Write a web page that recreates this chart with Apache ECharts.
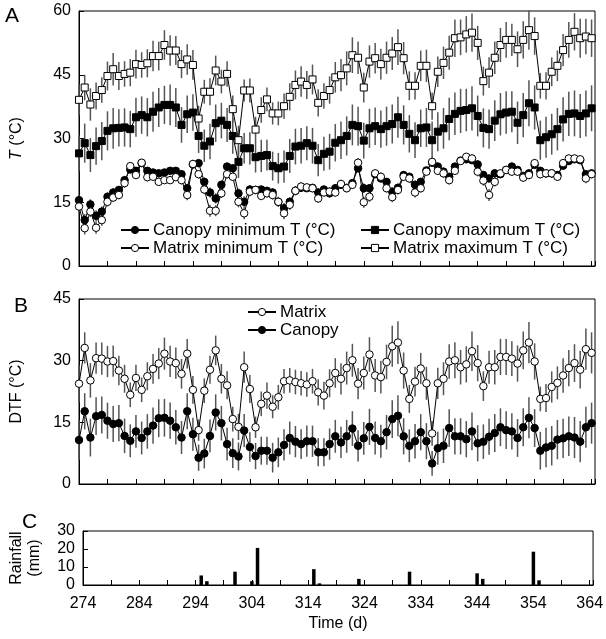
<!DOCTYPE html>
<html><head><meta charset="utf-8">
<script src="https://cdn.jsdelivr.net/npm/echarts/dist/echarts.min.js"></script>
<style>html,body{margin:0;padding:0;background:#fff}#c{width:606px;height:639px}</style>
</head><body><div id="c"></div>
<script>
const startDay = 274;
const xTickLabels = [274, 284, 294, 304, 314, 324, 334, 344, 354, 364];
const yTicksA = [0, 15, 30, 45, 60];
const yTicksB = [0, 15, 30, 45];
const yTicksC = [0, 10, 20, 30];

const matMax = [39.1,42.0,38.0,40.0,41.4,44.7,46.3,44.7,45.2,45.5,47.5,47.3,47.7,49.4,49.4,52.0,50.7,50.7,47.5,48.6,47.3,34.7,41.0,41.0,46.0,43.4,45.2,36.9,29.6,41.3,41.3,32.1,36.7,39.2,35.9,35.9,37.6,39.8,42.6,43.4,42.6,43.9,38.4,40.0,41.4,44.4,44.9,46.5,49.6,49.0,42.0,48.1,48.9,47.5,49.0,50.0,51.5,48.9,42.4,42.4,47.1,47.1,37.6,45.7,47.8,50.2,53.6,53.8,54.5,54.9,52.5,43.5,45.5,49.0,52.0,53.2,53.2,51.0,53.2,55.5,54.1,42.4,42.4,45.7,47.1,50.8,53.2,55.1,53.6,54.0,53.6];
const canMax = [26.5,28.9,26.1,28.2,29.4,31.8,32.4,32.5,32.6,32.2,35.0,35.5,35.0,36.3,37.3,37.9,37.9,37.3,33.2,35.7,36.1,30.6,28.3,29.3,33.6,34.2,33.2,30.6,24.5,27.7,27.7,25.6,25.9,26.1,23.5,23.0,23.4,25.9,28.1,28.3,28.9,28.3,24.9,26.4,26.9,29.0,29.6,30.6,33.2,32.9,29.5,32.4,32.9,32.2,32.9,33.4,35.0,33.2,31.1,29.6,32.4,32.6,29.6,31.6,32.4,34.6,35.8,36.5,36.7,37.1,35.3,32.5,32.2,34.2,35.7,36.1,36.3,33.7,35.5,38.3,37.3,29.6,30.3,31.0,32.2,34.5,35.8,35.9,35.3,35.9,37.1];
const canMin = [15.5,10.8,14.5,11.8,12.8,16.3,17.3,17.9,20.2,22.7,22.4,24.2,22.4,22.0,21.8,22.0,22.4,22.4,21.6,18.3,23.9,24.2,19.8,17.3,15.9,19.1,23.4,23.0,17.1,15.1,18.0,17.9,18.0,17.7,17.3,15.1,13.6,15.1,17.7,18.4,18.3,18.4,17.3,18.0,17.1,18.3,19.1,18.4,19.5,23.0,18.3,18.3,21.6,20.6,19.8,17.5,18.4,21.4,21.0,19.1,19.8,22.5,24.3,23.4,22.2,21.0,23.4,24.8,25.1,24.9,23.9,21.4,20.6,21.8,21.6,22.6,23.4,22.6,21.2,21.8,23.8,22.4,21.8,21.8,21.4,23.6,24.7,25.1,24.9,21.6,21.8];
const matMin = [14.0,8.9,12.8,9.0,10.8,15.1,16.1,16.7,19.5,23.5,21.4,24.3,20.9,21.0,19.8,20.2,20.2,20.9,20.2,16.7,24.0,21.6,18.0,13.0,13.0,17.1,21.6,21.0,15.1,12.4,17.5,17.9,16.5,17.1,16.7,15.1,12.4,14.4,17.7,18.7,18.5,18.3,15.9,17.3,17.5,17.3,19.3,18.3,19.1,24.3,15.0,16.3,21.8,21.0,18.3,16.2,17.9,21.0,20.6,17.3,18.3,22.2,24.5,22.4,21.8,20.2,22.4,24.7,25.7,25.3,22.2,20.1,16.7,19.8,21.8,22.6,22.2,22.2,20.8,21.4,24.2,21.6,21.8,21.8,21.0,24.2,25.3,25.3,25.1,20.6,21.6];
const matDTF = [24.4,33.1,25.2,30.6,30.5,29.8,29.9,27.6,25.6,21.7,25.8,22.9,26.2,28.0,29.3,31.7,29.8,29.4,26.8,31.7,22.9,13.1,22.7,27.8,32.5,25.6,24.0,15.8,13.9,28.4,23.1,13.8,19.5,21.5,18.8,21.1,25.0,25.2,24.8,24.5,24.2,25.0,22.3,21.5,24.5,27.0,25.6,28.2,30.1,24.4,27.0,31.5,26.4,26.0,29.7,33.5,34.4,27.6,20.7,24.9,28.1,24.5,12.3,24.5,25.6,29.8,30.1,28.4,29.1,32.3,29.4,23.8,28.4,28.4,30.9,30.9,30.5,29.3,32.5,34.4,29.8,20.7,20.9,23.6,24.6,26.4,28.2,29.4,27.8,32.8,31.9];
const canDTF = [10.7,17.7,11.3,16.5,16.8,15.4,14.6,14.8,11.7,10.5,12.8,11.2,12.8,14.2,16.0,16.1,15.4,13.8,11.3,17.7,12.1,6.4,7.4,11.7,17.4,14.8,9.7,7.5,6.7,13.0,9.0,6.8,8.1,8.1,6.4,7.7,9.5,11.2,10.3,9.7,10.4,10.4,7.7,7.7,9.7,11.6,10.1,11.6,13.5,9.3,11.1,13.9,11.2,10.4,12.6,15.8,16.6,11.6,9.3,10.4,12.6,10.4,5.0,8.7,9.3,13.6,11.6,11.6,10.9,12.8,9.9,10.3,11.5,12.4,13.8,13.1,12.8,11.2,13.8,16.1,13.6,8.1,8.9,9.3,10.8,11.1,11.6,11.3,10.3,13.8,14.8];

const errMatMax = [3.6,3.0,3.8,3.2,3.0,3.4,3.8,3.3,3.0,3.2,3.4,3.0,3.3,3.6,3.4,3.5,3.6,3.4,3.3,3.6,3.5,3.0,2.8,3.2,3.5,2.8,3.0,3.2,3.4,2.6,2.8,3.0,3.0,2.8,2.6,2.8,3.0,3.2,3.4,3.6,3.3,3.5,3.2,3.0,3.2,3.6,3.8,4.0,4.2,3.8,3.5,3.8,3.6,3.6,3.8,3.9,4.2,3.8,3.4,3.2,3.6,3.8,3.2,3.6,3.8,4.0,4.4,4.2,4.3,4.5,4.0,3.4,3.6,3.8,4.0,4.2,3.8,4.2,4.4,4.6,4.4,3.0,3.2,3.4,3.6,3.8,4.2,4.4,4.6,4.2,4.4];
const errCanMax = [4.2,4.6,4.0,4.4,4.5,4.6,4.8,4.4,4.5,4.3,4.6,4.4,4.5,4.7,4.6,4.5,4.8,4.6,4.2,4.4,4.3,4.0,3.8,4.2,4.4,4.2,4.0,4.2,3.8,3.6,3.8,3.6,3.8,3.6,3.4,3.6,3.8,4.0,4.2,4.2,4.0,4.2,3.8,4.0,4.2,4.4,4.4,4.6,4.8,4.6,4.2,4.6,4.4,4.4,4.6,4.6,4.8,4.6,4.4,4.2,4.4,4.6,4.4,4.6,4.8,5.0,5.0,5.2,5.0,5.2,4.8,4.6,4.6,4.8,5.0,5.0,4.8,5.0,5.2,5.4,5.2,4.6,4.8,4.8,5.0,5.2,5.2,5.4,5.2,5.4,5.4];
const errCanMin = [1.2,1.4,1.2,1.3,1.2,1.0,1.0,0.9,1.0,0.8,0.8,0.8,0.9,0.8,0.8,0.8,0.8,0.8,0.9,1.0,0.9,0.8,1.0,1.2,1.2,1.0,0.9,0.9,1.1,1.3,1.0,0.9,0.9,0.9,1.0,1.1,1.2,1.1,1.0,0.9,0.9,0.9,1.0,0.9,1.0,0.9,0.9,0.9,0.9,1.0,1.1,1.0,0.9,0.9,0.9,1.0,1.0,0.9,0.9,1.0,0.9,0.8,0.9,0.9,1.0,0.9,0.8,0.8,0.8,0.9,1.0,1.0,0.9,0.9,0.9,0.8,0.9,0.9,0.9,0.8,0.9,0.9,0.9,0.9,0.9,0.8,0.8,0.8,0.8,0.9,0.9];
const errMatMin = [1.4,1.5,1.3,1.4,1.3,1.1,1.0,1.0,1.1,0.9,0.9,0.9,1.0,0.9,0.9,0.9,0.9,0.9,1.0,1.2,1.0,1.0,1.1,1.4,1.3,1.1,1.0,1.0,1.3,1.4,1.1,1.0,1.0,1.0,1.1,1.2,1.4,1.2,1.1,1.0,1.0,1.0,1.1,1.0,1.1,1.0,1.0,1.0,1.0,1.1,1.3,1.2,1.0,1.0,1.0,1.2,1.1,1.0,1.0,1.2,1.0,0.9,1.0,1.0,1.1,1.0,0.9,0.9,0.9,1.0,1.1,1.2,1.4,1.1,1.0,0.9,1.0,1.0,1.0,0.9,1.0,1.0,1.0,1.0,1.0,0.9,0.9,0.9,0.9,1.1,1.0];
const errMatDTF = [4.5,3.8,4.2,3.8,3.9,3.8,3.8,3.6,3.4,3.0,3.2,3.0,3.4,3.6,3.8,3.9,3.8,3.8,3.6,3.6,3.4,2.6,3.0,3.4,3.6,3.6,3.4,3.0,3.2,3.8,3.4,2.6,3.0,3.2,2.8,3.0,3.0,3.0,3.0,3.0,3.0,3.0,3.2,3.4,3.4,3.6,3.8,4.0,4.0,3.8,4.0,4.2,4.0,4.0,4.2,5.0,5.2,4.4,3.4,3.6,3.8,4.0,3.0,3.8,4.0,4.2,4.4,4.2,4.4,4.8,4.4,3.6,4.0,4.2,4.4,4.4,4.2,4.4,4.6,5.0,4.4,3.0,3.4,3.8,4.0,4.2,4.4,4.6,4.6,5.0,5.0];
const errCanDTF = [4.8,4.4,4.6,4.6,4.5,4.4,4.4,4.4,4.2,4.0,4.0,4.0,4.2,4.4,4.6,4.6,4.4,4.2,4.0,4.4,4.0,3.2,3.6,4.0,4.4,4.2,4.0,3.6,3.4,4.0,3.6,3.2,3.4,3.4,3.6,3.6,3.8,4.0,3.8,3.6,3.8,3.8,3.4,3.4,3.8,4.0,3.8,4.0,4.2,3.8,4.0,4.4,4.0,4.0,4.2,4.6,5.0,4.4,4.0,4.2,4.4,4.4,3.0,4.0,4.2,4.6,4.4,4.4,4.4,4.6,4.4,4.2,4.4,4.6,4.6,4.6,4.4,4.6,4.6,5.0,4.6,4.6,4.8,4.8,4.8,4.8,4.8,5.0,5.0,5.0,5.0];

const rainDays = [295, 296, 301, 304, 305, 315, 316, 323, 332, 344, 345, 354, 355];
const rainMm = [5.3, 2.1, 7.4, 2.1, 20.6, 8.8, 0.9, 3.4, 7.4, 6.5, 3.4, 18.5, 2.6];

const days = matMax.map((_, i) => startDay + i);
const pts = vals => vals.map((v, i) => [days[i], v]);
const errs = (vals, e) => vals.map((v, i) => [days[i], v - e[i], v + e[i]]);

const FONT = '"Liberation Sans", Arial, Helvetica, sans-serif';
const BLACK = '#000';

function xAxis(gi, showLabels) {
  return {
    type: 'value', gridIndex: gi, min: 274, max: 364.6, interval: 5,
    axisLine: { show: true, onZero: false, lineStyle: { color: BLACK, width: 1 } },
    axisTick: { show: true, inside: true, length: 5, lineStyle: { color: BLACK, width: 1 } },
    splitLine: { show: false },
    axisLabel: {
      show: showLabels, color: BLACK, fontSize: 16, fontFamily: FONT, margin: 11,
      showMinLabel: true, showMaxLabel: true, alignMinLabel: 'center', alignMaxLabel: 'center',
      hideOverlap: false,
      formatter: v => {
        const r = Math.round(v);
        return (Math.abs(v - r) < 1e-6 && xTickLabels.indexOf(r) >= 0) ? String(r) : '';
      }
    },
    name: showLabels ? 'Time (d)' : '', nameLocation: 'middle', nameGap: 31,
    nameTextStyle: { color: BLACK, fontSize: 16, fontFamily: FONT }
  };
}
function yAxis(gi, ticks, name, gap) {
  return {
    type: 'value', gridIndex: gi, min: ticks[0], max: ticks[ticks.length - 1],
    interval: ticks[1] - ticks[0],
    axisLine: { show: true, lineStyle: { color: BLACK, width: 1 } },
    axisTick: { show: true, inside: true, length: 5, lineStyle: { color: BLACK, width: 1 } },
    splitLine: { show: false },
    axisLabel: { color: BLACK, fontSize: 16, fontFamily: FONT, margin: 8 },
    name: name, nameLocation: 'middle', nameGap: gap, nameRotate: 90,
    nameTextStyle: { color: BLACK, fontSize: 16, fontFamily: FONT, lineHeight: 18,
      rich: { it: { fontStyle: 'italic', fontSize: 16, fontFamily: FONT, color: BLACK } } }
  };
}
function lineSeries(name, vals, xi, symbol, filled) {
  return {
    type: 'line', name: name, xAxisIndex: xi, yAxisIndex: xi, data: pts(vals),
    symbol: symbol, symbolSize: symbol === 'rect' ? 7 : 7.5, showSymbol: true,
    lineStyle: { color: BLACK, width: 1 },
    itemStyle: { color: filled ? BLACK : '#fff', borderColor: BLACK, borderWidth: 1 },
    emphasis: { disabled: true }, animation: false, z: 3
  };
}
function errSeries(vals, e, xi) {
  return {
    type: 'custom', xAxisIndex: xi, yAxisIndex: xi, data: errs(vals, e), silent: true, z: 1,
    animation: false,
    encode: { x: 0, y: [1, 2] },
    renderItem: (params, api) => {
      const p1 = api.coord([api.value(0), api.value(1)]);
      const p2 = api.coord([api.value(0), api.value(2)]);
      return { type: 'line', shape: { x1: p1[0], y1: p1[1], x2: p2[0], y2: p2[1] },
        style: { stroke: '#555', lineWidth: 1.5 } };
    }
  };
}
const legendBase = {
  orient: 'vertical', itemWidth: 28, itemHeight: 9, itemGap: 0,
  textStyle: { color: BLACK, fontSize: 17, fontFamily: FONT, lineHeight: 18, padding: [0, 0, 0, -1] },
  itemStyle: { borderWidth: 1 }, selectedMode: false, padding: 0
};

const chart = echarts.init(document.getElementById('c'), null, { renderer: 'canvas' });
chart.setOption({
  animation: false,
  backgroundColor: '#fff',
  grid: [
    { left: 76, right: 11, top: 11, height: 255, show: true, borderColor: BLACK, borderWidth: 1, backgroundColor: 'transparent' },
    { left: 76, right: 11, top: 299, height: 185, show: true, borderColor: BLACK, borderWidth: 1, backgroundColor: 'transparent' },
    { left: 76, right: 11, top: 531, height: 54, show: true, borderColor: BLACK, borderWidth: 1, backgroundColor: 'transparent' }
  ],
  xAxis: [xAxis(0, false), xAxis(1, false), xAxis(2, true)],
  yAxis: [
    yAxis(0, yTicksA, '{it|T} (°C)', 53),
    yAxis(1, yTicksB, 'DTF (°C)', 53),
    yAxis(2, yTicksC, 'Rainfall\n(mm)', 39)
  ],
  legend: [
    Object.assign({}, legendBase, { left: 120, top: 221, data: ['Canopy minimum T (°C)', 'Matrix minimum T (°C)'] }),
    Object.assign({}, legendBase, { left: 360, top: 221, data: ['Canopy maximum T (°C)', 'Matrix maximum T (°C)'] }),
    Object.assign({}, legendBase, { left: 247, top: 303, data: ['Matrix', 'Canopy'] })
  ],
  graphic: [
    { type: 'text', left: 5, top: 6, style: { text: 'A', fontSize: 21, fontFamily: FONT, fill: BLACK } },
    { type: 'text', left: 14, top: 296, style: { text: 'B', fontSize: 21, fontFamily: FONT, fill: BLACK } },
    { type: 'text', left: 22, top: 512, style: { text: 'C', fontSize: 21, fontFamily: FONT, fill: BLACK } }
  ],
  series: [
    errSeries(matMax, errMatMax, 0),
    errSeries(canMax, errCanMax, 0),
    errSeries(canMin, errCanMin, 0),
    errSeries(matMin, errMatMin, 0),
    lineSeries('Canopy maximum T (°C)', canMax, 0, 'rect', true),
    lineSeries('Matrix maximum T (°C)', matMax, 0, 'rect', false),
    lineSeries('Canopy minimum T (°C)', canMin, 0, 'circle', true),
    lineSeries('Matrix minimum T (°C)', matMin, 0, 'circle', false),
    errSeries(matDTF, errMatDTF, 1),
    errSeries(canDTF, errCanDTF, 1),
    lineSeries('Matrix', matDTF, 1, 'circle', false),
    lineSeries('Canopy', canDTF, 1, 'circle', true),
    {
      type: 'bar', name: 'Rainfall', xAxisIndex: 2, yAxisIndex: 2, barWidth: 3.5,
      data: rainDays.map((d, i) => [d, rainMm[i]]),
      itemStyle: { color: BLACK }, animation: false, z: 2
    }
  ]
});
</script>
</body></html>
